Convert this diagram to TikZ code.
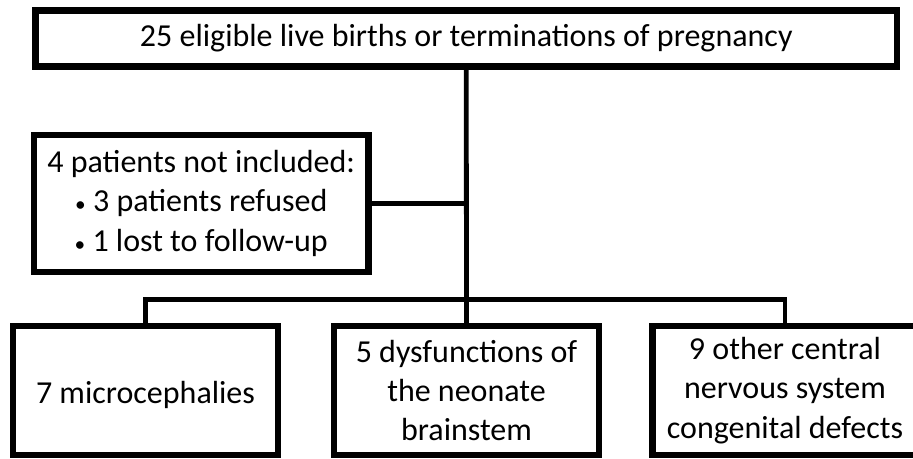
\documentclass[tikz,border=0pt]{standalone}
\usepackage{fontspec}
\setmainfont{Carlito}
\newcommand{\smallbul}{{\fontsize{16}{16}\selectfont\textbullet}}
\begin{document}
\begin{tikzpicture}[x=0.75pt,y=-0.75pt,
  box/.style={draw=black,line width=4.6pt,fill=white,inner sep=0pt,align=center,
    font=\fontsize{24}{29.5}\selectfont},
  lowbox/.style={box,minimum width=265*0.75pt,minimum height=129*0.75pt,
    execute at begin node={\rule{0pt}{23.5pt}}},
  conn/.style={draw=black,line width=3.6pt}]
\useasboundingbox (0,0) rectangle (913,458);
\node[box,minimum width=861.5*0.75pt,minimum height=56*0.75pt] (top) at (466.25,38.5)
  {25 eligible live births or terminations of pregnancy};
\node[box,minimum width=334.5*0.75pt,minimum height=137.3*0.75pt] (excl) at (201.25,203.35)
  {4 patients not included:\\ \smallbul{} 3 patients refused\\ \smallbul{} 1 lost to follow-up};
\node[lowbox] (b1) at (145.5,390.5) {7 microcephalies};
\node[lowbox] (b2) at (466.5,390.5) {5 dysfunctions of\\ the neonate\\ brainstem};
\node[lowbox] (b3) at (785,390.5) {9 other central\\ nervous system\\ congenital defects};
\coordinate (j) at (466.5,299.5);
\draw[conn] (top.south) -- (b2.north);
\draw[conn] (b1.north) |- (j) -| (b3.north);
\draw[conn] (excl.east) -- (excl.east -| top.south);
\end{tikzpicture}
\end{document}
